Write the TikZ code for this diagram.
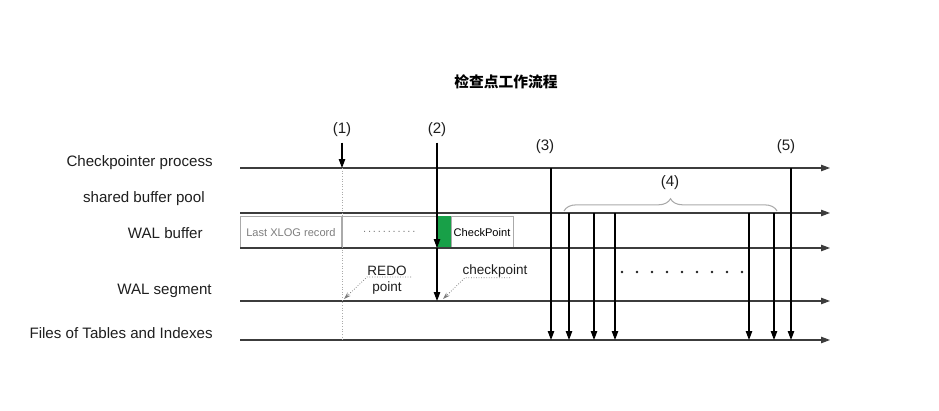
\documentclass[tikz,border=0pt]{standalone}
\usepackage{fontspec}
\setmainfont{Liberation Sans}
\newfontfamily\cjk{Noto Sans CJK SC}
\usepackage{tikz}
\usetikzlibrary{arrows.meta, positioning, calc, decorations.pathreplacing}
\definecolor{lanegray}{RGB}{60,60,60}
\definecolor{boxgray}{RGB}{170,170,170}
\definecolor{txtgray}{RGB}{125,125,125}
\definecolor{ckgreen}{RGB}{24,160,72}
\definecolor{mydark}{RGB}{30,30,30}
\tikzset{
  lane/.style={-{Triangle[length=5pt,width=3.6pt]}, line width=0.6pt, color=lanegray},
  arrow/.style={-{Triangle[length=5pt,width=3.6pt]}, line width=0.6pt, color=black},
  leader/.style={-{Stealth[length=4pt,width=2.6pt]}, densely dotted, line width=0.45pt, color=txtgray},
  redoline/.style={densely dotted, line width=0.5pt, color=boxgray},
  lanelabel/.style={anchor=east, font=\fontsize{8.6}{10}\selectfont, text=mydark, inner sep=0pt},
  steplabel/.style={font=\fontsize{8.6}{10}\selectfont, text=mydark, inner sep=0pt},
  cell/.style={rectangle, draw=boxgray, line width=0.5pt, minimum height=0.62cm,
    inner sep=1pt, font=\fontsize{6.3}{7}\selectfont, anchor=south west},
  note/.style={font=\fontsize{7.7}{9}\selectfont, align=center, text=mydark, inner sep=0pt},
  brace/.style={decorate, decoration={brace, amplitude=7pt}, color=boxgray, line width=0.6pt}
}

\begin{document}
\begin{tikzpicture}[x=0.02cm, y=-0.02cm]
  \useasboundingbox (0,0) rectangle (939,411);

  % Title
  \node[font=\cjk\bfseries\fontsize{8.4}{10}\selectfont] (title) at (506,82) {检查点工作流程};

  % Lane end points
  \foreach \name/\y in {cp/168, sb/213, wb/248, ws/301, tf/340} {
    \coordinate (\name-s) at (240,\y);
    \coordinate (\name-e) at (830,\y);
  }

  % Lane labels
  \node[lanelabel] (cp-lbl) at (213,163) {Checkpointer process};
  \node[lanelabel] (sb-lbl) at (205,199) {shared buffer pool};
  \node[lanelabel] (wb-lbl) at (203,233) {WAL buffer};
  \node[lanelabel] (ws-lbl) at (212,291) {WAL segment};
  \node[lanelabel] (tf-lbl) at (213,333) {Files of Tables and Indexes};

  % WAL buffer records
  \node[cell, text=txtgray, minimum width=2.02cm] (last) at (wb-s) {Last XLOG record};
  \node[cell, text=txtgray, minimum width=1.88cm, right=0pt of last] (gap) {.\,.\,.\,.\,.\,.\,.\,.\,.\,.\,.};
  \node[cell, fill=ckgreen, draw=ckgreen, minimum width=0.26cm, right=0pt of gap] (ckfill) {};
  \node[cell, text=black, minimum width=1.24cm, right=0pt of ckfill] (ckrec) {CheckPoint};

  % Lanes
  \foreach \name in {cp, sb, wb, ws, tf}
    \draw[lane] (\name-s) -- (\name-e);

  % (1) REDO point
  \node[steplabel] (s1) at (342,130) {(1)};
  \coordinate (redo) at (342,168);
  \draw[redoline] (redo) -- (redo |- tf-s);
  \draw[arrow, shorten <=3pt] (s1) -- (redo);

  % (2) checkpoint record
  \node[steplabel] (s2) at (437,130) {(2)};
  \coordinate (ckpt) at (437,248);
  \draw[arrow, shorten <=3pt] (s2) -- (ckpt);
  \draw[arrow] (ckpt) -- (ckpt |- ws-s);

  % Notes
  \node[note] (redo-note) at (387,280) {REDO\\point};
  \coordinate (redo-u) at (411,277);
  \coordinate (redo-tip) at (344,299);
  \draw[leader] (redo-u) -- ++(-44,0) -- (redo-tip);
  \node[note] (ck-note) at (495,271) {checkpoint};
  \coordinate (ck-tip) at (443,299);
  \draw[leader] ($(ck-note.south)+(15,0)$) -- ++(-45,0) -- (ck-tip);

  % (3) and (5)
  \node[steplabel] (s3) at (545,147) {(3)};
  \coordinate (p3) at (551,168);
  \draw[arrow] (p3) -- (p3 |- tf-s);
  \node[steplabel] (s5) at (786,147) {(5)};
  \coordinate (p5) at (791,168);
  \draw[arrow] (p5) -- (p5 |- tf-s);

  % (4) dirty pages flushed
  \node[steplabel] (s4) at (670,183) {(4)};
  \coordinate (br-l) at (564,211);
  \coordinate (br-r) at (777,211);
  \draw[brace] (br-l) -- (br-r);
  \foreach \x [count=\i] in {569,594,615,749,774} {
    \coordinate (w\i) at (\x,213);
    \draw[arrow] (w\i) -- (w\i |- tf-s);
  }
  \foreach \i in {0,...,8}
    \fill[mydark] (622+15*\i,272) circle (0.8pt);
\end{tikzpicture}
\end{document}
